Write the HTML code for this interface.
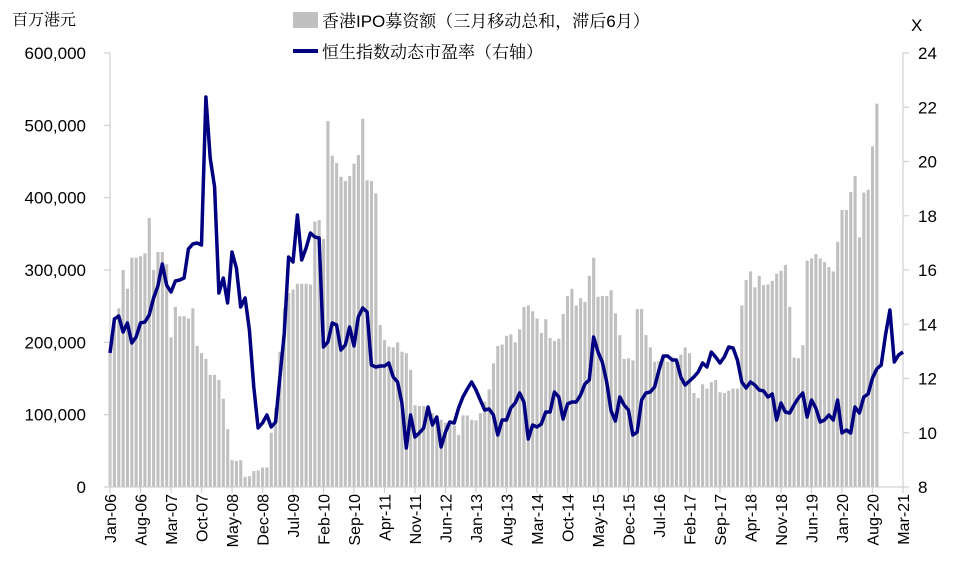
<!DOCTYPE html>
<html><head><meta charset="utf-8"><style>
html,body{margin:0;padding:0;background:#fff;width:960px;height:573px;overflow:hidden}
text{font-family:"Liberation Sans","Noto Sans CJK SC",sans-serif}
.cj{font-family:"Liberation Sans","Noto Serif CJK SC",serif}
</style></head><body>
<svg id="c" width="960" height="573" xmlns="http://www.w3.org/2000/svg">
<g id="bars" fill="#c0c0c0"></g>
<g stroke="#d0d0d0" stroke-width="1.2" fill="none">
<line x1="110" y1="53" x2="110" y2="487"/>
<line x1="903" y1="53" x2="903" y2="487"/>
<line x1="110" y1="487" x2="903" y2="487"/>
<g id="ticks"></g>
</g>
<polyline id="ln" fill="none" stroke="#000080" stroke-width="3.5" stroke-linejoin="round"/>
<g id="lab" font-size="17" fill="#000"></g>
<text class="cj" x="12" y="25" font-size="16">百万港元</text>
<text x="911" y="31" font-size="17">X</text>
<rect x="293" y="12" width="25" height="16" fill="#c0c0c0"/>
<text class="cj" x="322" y="27" font-size="17">香港IPO募资额（三月移动总和，滞后6月）</text>
<line x1="293" y1="51" x2="318" y2="51" stroke="#000080" stroke-width="4"/>
<text class="cj" x="322" y="58" font-size="17">恒生指数动态市盈率（右轴）</text>
</svg>
<script>
var B=[185,235,247,300,274,317,317,319,323,372,300,325,325,308,207,249,236,236,233,247,195,185,177,155,155,148,122,80,37,36,37,14,15,22,23,27,27,75,109,187,247,268,273,281,281,281,280,367,369,343,506,458,448,429,423,430,447,459,509,424,423,406,224,203,194,193,200,187,185,162,113,112,112,111,102,95,93,89,86,85,72,99,99,93,92,102,118,135,171,195,197,209,211,200,218,249,251,243,233,213,232,206,202,205,239,264,274,251,261,256,292,317,263,264,264,272,240,210,177,178,175,246,246,210,193,173,174,180,173,180,173,183,193,185,130,123,142,136,145,148,131,130,133,136,136,251,286,298,276,292,279,280,285,295,299,307,249,179,178,196,313,316,322,316,311,304,298,339,383,383,408,430,345,407,411,471,530];
var L=[353,319,316,332,323,343,337,323,322,315,298,286,264,285,292,281,280,278,249,244,243,245,97,158,187,293,278,303,252,268,307,298,330,387,428,423,415,427,422,377,333,257,262,215,260,248,233,237,238,347,342,323,325,350,345,327,346,317,308,312,365,367,366,366,363,377,382,403,448,415,437,433,428,407,425,417,447,432,422,423,408,397,389,382,390,400,410,409,415,435,420,420,408,403,393,402,439,425,427,424,412,412,392,397,419,404,402,402,395,384,380,337,352,362,382,411,421,397,405,410,435,432,400,393,392,387,370,356,356,360,360,377,385,381,377,372,363,367,352,357,363,357,347,348,360,382,388,382,385,390,391,397,394,420,403,412,413,405,398,393,417,400,408,422,420,415,420,400,433,430,433,407,413,397,394,378,369,365,335,310,362,355,352];
var s=4.357,ns="http://www.w3.org/2000/svg";
function X(i){return 110+i*s}
var bg=document.getElementById('bars');
B.forEach(function(v,i){var r=document.createElementNS(ns,'rect');var h=v*0.7233;r.setAttribute('x',X(i)-1.5);r.setAttribute('y',487-h);r.setAttribute('width',3.1);r.setAttribute('height',h);bg.appendChild(r);});
var pts=L.map(function(y,i){return X(i).toFixed(1)+','+y}).join(' ');
document.getElementById('ln').setAttribute('points',pts);
var tk=document.getElementById('ticks'),lb=document.getElementById('lab');
function add(p,a,t){var e=document.createElementNS(ns,t||'line');for(var k in a)e.setAttribute(k,a[k]);p.appendChild(e);return e}
var lv=['0','100,000','200,000','300,000','400,000','500,000','600,000'];
for(var k=0;k<=6;k++){var y=487-k*72.33;add(tk,{x1:104,y1:y,x2:110,y2:y});var t=add(lb,{x:86,y:y+6,'text-anchor':'end'},'text');t.textContent=lv[k];}
for(var k=0;k<=8;k++){var y=487-k*54.25;add(tk,{x1:903,y1:y,x2:909,y2:y});var t=add(lb,{x:918,y:y+6},'text');t.textContent=String(8+2*k);}
var ml=['Jan-06','Aug-06','Mar-07','Oct-07','May-08','Dec-08','Jul-09','Feb-10','Sep-10','Apr-11','Nov-11','Jun-12','Jan-13','Aug-13','Mar-14','Oct-14','May-15','Dec-15','Jul-16','Feb-17','Sep-17','Apr-18','Nov-18','Jun-19','Jan-20','Aug-20','Mar-21'];
ml.forEach(function(m,j){var x=X(j*7);add(tk,{x1:x,y1:487,x2:x,y2:493});var t=add(lb,{x:0,y:0,'text-anchor':'end',transform:'translate('+(x+6)+',494) rotate(-90)','font-size':16},'text');t.textContent=m;});
</script>
</body></html>
